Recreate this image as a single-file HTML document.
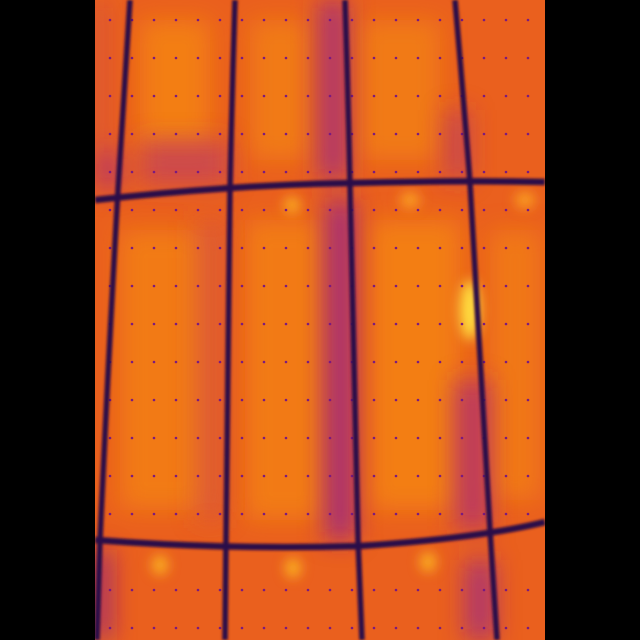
<!DOCTYPE html>
<html><head><meta charset="utf-8"><style>
html,body{margin:0;padding:0;background:#000;width:640px;height:640px;overflow:hidden}
svg{display:block}
</style></head><body>
<svg id="img" width="640" height="640" viewBox="0 0 640 640" xmlns="http://www.w3.org/2000/svg">
<defs>
<filter id="b12" x="-50%" y="-50%" width="200%" height="200%"><feGaussianBlur stdDeviation="12"/></filter>
<filter id="b6" x="-50%" y="-50%" width="200%" height="200%"><feGaussianBlur stdDeviation="6"/></filter>
<filter id="b2"><feGaussianBlur stdDeviation="1.2"/></filter>
<clipPath id="clip"><rect x="95" y="0" width="450" height="640"/></clipPath>
</defs>
<rect width="640" height="640" fill="#000"/>
<g clip-path="url(#clip)">
<rect x="95" y="0" width="450" height="640" fill="#ea601e"/>
<g id="warm" filter="url(#b12)">
<rect x="140" y="20" width="70" height="130" fill="#f5880f" opacity="0.75"/>
<rect x="250" y="20" width="60" height="140" fill="#f5880f" opacity="0.65"/>
<rect x="360" y="20" width="80" height="140" fill="#f5880f" opacity="0.65"/>
<rect x="120" y="230" width="90" height="280" fill="#f5860f" opacity="0.7"/>
<rect x="245" y="220" width="80" height="300" fill="#f5860f" opacity="0.7"/>
<rect x="370" y="220" width="90" height="290" fill="#f5880f" opacity="0.75"/>
<rect x="490" y="230" width="50" height="270" fill="#f5860f" opacity="0.65"/>
</g>
<g id="cool" filter="url(#b12)">
<rect x="318" y="0" width="30" height="180" fill="#a02a80" opacity="0.8"/>
<rect x="325" y="200" width="30" height="340" fill="#a0287e" opacity="0.9"/>
<rect x="140" y="140" width="90" height="45" fill="#c04060" opacity="0.7"/>
<rect x="95" y="150" width="25" height="40" fill="#b03070" opacity="0.8"/>
<rect x="455" y="380" width="35" height="150" fill="#b03070" opacity="0.8"/>
<rect x="445" y="110" width="25" height="70" fill="#b03070" opacity="0.6"/>
<rect x="95" y="550" width="15" height="90" fill="#8a1a88" opacity="0.9"/>
<rect x="465" y="560" width="30" height="80" fill="#a02a80" opacity="0.8"/>
<rect x="195" y="220" width="30" height="300" fill="#d04a50" opacity="0.5"/>
<rect x="95" y="0" width="10" height="160" fill="#c04060" opacity="0.6"/>
</g>
<g filter="url(#b6)">
<ellipse cx="470" cy="310" rx="10" ry="30" fill="#ffe040"/>
<ellipse cx="292" cy="205" rx="8" ry="8" fill="#fbb020"/>
<ellipse cx="160" cy="565" rx="8" ry="10" fill="#fbb020"/>
<ellipse cx="293" cy="568" rx="8" ry="10" fill="#fbb020"/>
<ellipse cx="428" cy="562" rx="8" ry="10" fill="#fbb020"/>
<ellipse cx="410" cy="200" rx="10" ry="8" fill="#fba020"/>
<ellipse cx="525" cy="200" rx="10" ry="8" fill="#fba020"/>
</g>
<g id="dots"></g>
<g fill="none" stroke="#2a0c4a" stroke-width="5.5" filter="url(#b2)">
<path d="M130,0 Q124,95 118,190 Q108,365 100,540 L97,640"/>
<path d="M235,0 Q232,95 230,190 Q228,365 226,540 L225,640"/>
<path d="M345,0 Q348,92 350,185 Q354,362 358,540 L362,640"/>
<path d="M455,0 Q463,92 470,183 Q480,357 490,530 L497,640"/>
<path d="M95,200 Q230,185 350,183 Q470,180 545,182" stroke-width="6.5"/>
<path d="M95,540 Q230,550 360,546 Q480,538 545,522" stroke-width="6.5"/>
</g>
</g>
</svg>
<script>
const dots=document.getElementById('dots');
const ns='http://www.w3.org/2000/svg';
for(let y=20;y<640;y+=38){
  for(let x=110;x<545;x+=22){
    if(Math.abs(y-190)<14||Math.abs(y-540)<14) continue;
    const c=document.createElementNS(ns,'circle');
    
    
    c.setAttribute('cx',x);c.setAttribute('cy',y);c.setAttribute('r',1.3);
    c.setAttribute('fill','#7a1a80');
    dots.appendChild(c);
  }
}
</script>
</body></html>
